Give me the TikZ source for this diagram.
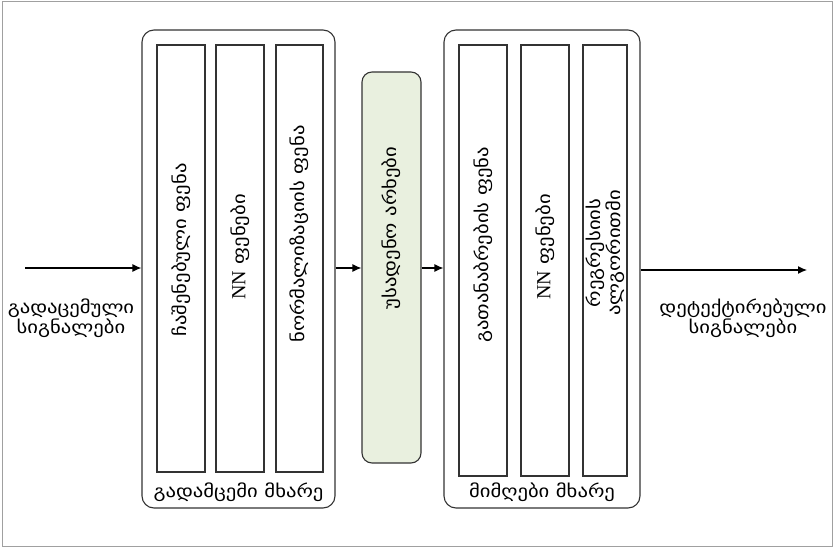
\documentclass[tikz,border=0pt]{standalone}
\usepackage{fontspec}
\usetikzlibrary{arrows.meta}
\newfontfamily\geo[FakeStretch=1.18]{DejaVu Sans}
\newfontfamily\latn{Liberation Serif}
\definecolor{edge}{HTML}{333333}
\definecolor{chanfill}{HTML}{E9F0DF}
\definecolor{frame}{HTML}{A0A0A0}
\tikzset{
  side/.style={draw=edge, line width=1.1pt, rounded corners=12pt, minimum width=#1, minimum height=478pt, inner sep=0pt},
  layer/.style={draw=edge, line width=1.6pt, minimum width=#1, inner sep=0pt},
  chan/.style={draw=edge, line width=1.1pt, fill=chanfill, rounded corners=10pt, minimum width=59pt, minimum height=391pt, inner sep=0pt},
  vlabel/.style={rotate=90, font=\geo\fontsize{17.5}{18}\selectfont, text=black, inner sep=0pt, align=center},
  hlabel/.style={font=\geo\fontsize{17.5}{20}\selectfont, text=black, inner sep=0pt, align=center},
  flow/.style={draw=black, line width=1.2pt, -{Latex[length=9pt,width=8pt]}}
}
\newcommand{\nnword}{{\latn\fontsize{20}{20}\selectfont NN}}
\begin{document}
\begin{tikzpicture}[x=1pt,y=-1pt]
  \useasboundingbox (0,0) rectangle (834,548);
  \draw[frame, line width=1pt] (2,2) rectangle (832,546);

  % transmitter side
  \node[side=193pt] (tx) at (238.5,269) {};
  \node[layer=48pt, minimum height=427pt] (emb) at (181,258.5) {};
  \node[layer=48pt, minimum height=427pt] (nntx) at (240,258.5) {};
  \node[layer=47pt, minimum height=427pt] (norm) at (299.5,258.5) {};
  \node[vlabel] (embt) at (181,250) {ჩაშენებული ფენა};
  \node[vlabel] (nntxt) at (240,247) {\nnword{} ფენები};
  \node[vlabel] (normt) at (299.5,234) {ნორმალიზაციის ფენა};
  \node[hlabel] (txlab) at (238.5,492) {გადამცემი მხარე};

  % wireless channel
  \node[chan] (ch) at (391.5,267.5) {};
  \node[vlabel] (cht) at (391.5,228) {უსადენო არხები};

  % receiver side
  \node[side=196pt] (rx) at (542,269) {};
  \node[layer=48pt, minimum height=431pt] (eq) at (483,260.5) {};
  \node[layer=48pt, minimum height=431pt] (nnrx) at (545,260.5) {};
  \node[layer=44pt, minimum height=431pt] (reg) at (605,260.5) {};
  \node[vlabel] (eqt) at (483,245) {გათანაბრების ფენა};
  \node[vlabel] (nnrxt) at (545,247) {\nnword{} ფენები};
  \node[vlabel] (regt) at (605,253) {რეგრესიის\\ალგორითმი};
  \node[hlabel] (rxlab) at (542,492) {მიმღები მხარე};

  % input and output signals
  \coordinate (src) at (25,268);
  \coordinate (dst) at (807,270);
  \node[hlabel] (inlab) at (71,318) {გადაცემული\\სიგნალები};
  \node[hlabel] (outlab) at (743,318) {დეტექტირებული\\სიგნალები};

  % signal flow
  \draw[flow] (src) -- (src -| tx.west);
  \draw[flow] (tx.east |- 0,268) -- (ch.west |- 0,268);
  \draw[flow] (ch.east |- 0,268) -- (rx.west |- 0,268);
  \draw[flow] (rx.east |- 0,270) -- (dst);
\end{tikzpicture}
\end{document}
